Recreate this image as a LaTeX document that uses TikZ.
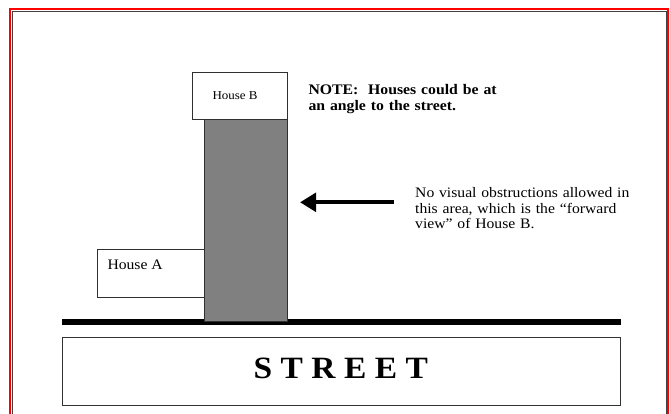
\documentclass[tikz,border=0pt]{standalone}
\usepackage{fontspec}
\setmainfont[FakeStretch=1.08]{Liberation Serif}
\usetikzlibrary{arrows.meta}
\definecolor{fwdgray}{HTML}{808080}
\definecolor{edgegray}{HTML}{303030}
\begin{document}
\begin{tikzpicture}[x=1pt,y=-1pt,
  box/.style={draw=edgegray, line width=0.9pt, fill=white, inner sep=0pt, anchor=north west},
  txt/.style={inner sep=0pt, anchor=base west, align=left},
  fwdarrow/.style={line width=4.3pt, -{Triangle[length=16pt,width=18.4pt]}}
]
\useasboundingbox (0,0) rectangle (670,413);
\clip (0,0) rectangle (670,413);
% page border
\draw[black!75, line width=1.0pt] (12.1,11.0) rectangle (666.0,440);
\draw[red, line width=2.0pt] (10.2,9.2) rectangle (668.2,440);
% street line
\draw[line width=6.2pt] (62,322) -- (620.8,322);
% house A
\node[box, minimum width=107.2pt, minimum height=47.7pt] (houseA) at (97.3,249) {};
\node[txt, font=\fontsize{14.5}{15}\selectfont] (houseAlbl) at (107.3,269.5) {House A};
% forward view area
\node[box, fill=fwdgray, minimum width=82.5pt, minimum height=202.5pt] (fwd) at (204.3,118.5) {};
% house B
\node[box, minimum width=95pt, minimum height=46.8pt] (houseB) at (192.3,71.7) {};
\node[inner sep=0pt, anchor=base, font=\fontsize{12}{13}\selectfont] (houseBlbl) at (235,99.5) {House B};
% street box
\node[box, draw=black!80, line width=1pt, minimum width=557.7pt, minimum height=67.6pt] (street) at (62,337) {};
\node[inner sep=0pt, anchor=base, font=\fontsize{31}{34}\selectfont\bfseries] (streetlbl) at (340.8,378.5) {\spaceskip=8.4pt S T R E E T};
% note
\node[txt, text width=220pt, font=\fontsize{14.6}{15.5}\selectfont\bfseries] (note) at (308.3,94.5) {NOTE:\ \ Houses could be at\\an angle to the street.};
% explanation
\node[txt, text width=240pt, font=\fontsize{14.5}{15.5}\selectfont] (expl) at (415,197.5) {No visual obstructions allowed in\\this area, which is the “forward\\view” of House B.};
% arrow
\coordinate (arrowS) at (394,202.3);
\coordinate (arrowE) at (300,202.3);
\draw[fwdarrow] (arrowS) -- (arrowE);
\end{tikzpicture}
\end{document}
